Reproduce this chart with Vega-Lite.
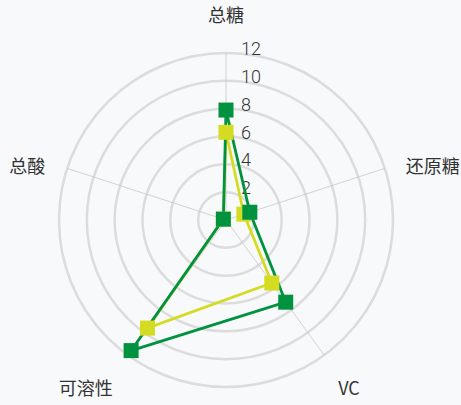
{
  "$schema": "https://vega.github.io/schema/vega-lite/v6.json",
  "width": 334,
  "height": 334,
  "autosize": {"type": "none"},
  "padding": {"left": 59, "top": 53, "right": 68, "bottom": 18},
  "background": "#f8f9fb",
  "config": {"view": {"stroke": null}},
  "datasets": {
    "pts": [
      {"axis": "总糖", "idx": 0, "series": "B", "value": 6.3},
      {"axis": "还原糖", "idx": 1, "series": "B", "value": 1.35},
      {"axis": "VC", "idx": 2, "series": "B", "value": 5.6},
      {"axis": "可溶性", "idx": 3, "series": "B", "value": 9.6},
      {"axis": "总酸", "idx": 4, "series": "B", "value": 0.2},
      {"axis": "总糖", "idx": 0, "series": "A", "value": 7.9},
      {"axis": "还原糖", "idx": 1, "series": "A", "value": 1.8},
      {"axis": "VC", "idx": 2, "series": "A", "value": 7.3},
      {"axis": "可溶性", "idx": 3, "series": "A", "value": 11.6},
      {"axis": "总酸", "idx": 4, "series": "A", "value": 0.2}
    ],
    "axes": [
      {"axis": "总糖", "idx": 0, "max": 12},
      {"axis": "还原糖", "idx": 1, "max": 12},
      {"axis": "VC", "idx": 2, "max": 12},
      {"axis": "可溶性", "idx": 3, "max": 12},
      {"axis": "总酸", "idx": 4, "max": 12}
    ],
    "rings": [
      {"r": 2}, {"r": 4}, {"r": 6}, {"r": 8}, {"r": 10}, {"r": 12}
    ]
  },
  "layer": [
    {
      "data": {"name": "rings"},
      "mark": {"type": "arc", "theta": 0, "theta2": 6.2832, "fill": null, "stroke": "#dcdcdc", "strokeWidth": 2.5},
      "encoding": {
        "radius": {"field": "r", "type": "quantitative", "stack": null, "scale": {"type": "linear", "domain": [0, 12], "range": [0, 167], "zero": true}}
      }
    },
    {
      "data": {"name": "axes"},
      "transform": [
        {"calculate": "PI/2 - datum.idx*2*PI/5", "as": "ang"},
        {"calculate": "datum.max*cos(datum.ang)", "as": "ex"},
        {"calculate": "datum.max*sin(datum.ang)", "as": "ey"},
        {"calculate": "0", "as": "zero"}
      ],
      "mark": {"type": "rule", "stroke": "#c8c8c8", "strokeWidth": 0.8},
      "encoding": {
        "x": {"field": "zero", "type": "quantitative", "scale": {"domain": [-12, 12], "nice": false, "zero": false}, "axis": null},
        "y": {"field": "zero", "type": "quantitative", "scale": {"domain": [-12, 12], "nice": false, "zero": false}, "axis": null},
        "x2": {"field": "ex"},
        "y2": {"field": "ey"}
      }
    },
    {
      "data": {"name": "rings"},
      "transform": [{"calculate": "0", "as": "zero"}],
      "mark": {"type": "text", "align": "left", "baseline": "middle", "dx": 15, "dy": -3, "font": "Roboto", "fontWeight": 300, "fontSize": 18, "fill": "#333333"},
      "encoding": {
        "x": {"field": "zero", "type": "quantitative"},
        "y": {"field": "r", "type": "quantitative"},
        "text": {"field": "r", "type": "quantitative"}
      }
    },
    {
      "data": {"name": "pts"},
      "transform": [
        {"filter": "datum.series == 'B'"},
        {"calculate": "PI/2 - datum.idx*2*PI/5", "as": "ang"},
        {"calculate": "datum.value*cos(datum.ang)", "as": "px"},
        {"calculate": "datum.value*sin(datum.ang)", "as": "py"}
      ],
      "mark": {"type": "line", "interpolate": "linear-closed", "stroke": "#d4dc22", "strokeWidth": 2.8},
      "encoding": {
        "x": {"field": "px", "type": "quantitative"},
        "y": {"field": "py", "type": "quantitative"},
        "order": {"field": "idx", "type": "quantitative"}
      }
    },
    {
      "data": {"name": "pts"},
      "transform": [
        {"filter": "datum.series == 'A'"},
        {"calculate": "PI/2 - datum.idx*2*PI/5", "as": "ang"},
        {"calculate": "datum.value*cos(datum.ang)", "as": "px"},
        {"calculate": "datum.value*sin(datum.ang)", "as": "py"}
      ],
      "mark": {"type": "line", "interpolate": "linear-closed", "stroke": "#00923f", "strokeWidth": 2.8},
      "encoding": {
        "x": {"field": "px", "type": "quantitative"},
        "y": {"field": "py", "type": "quantitative"},
        "order": {"field": "idx", "type": "quantitative"}
      }
    },
    {
      "data": {"name": "pts"},
      "transform": [
        {"filter": "datum.series == 'B'"},
        {"calculate": "PI/2 - datum.idx*2*PI/5", "as": "ang"},
        {"calculate": "datum.value*cos(datum.ang)", "as": "px"},
        {"calculate": "datum.value*sin(datum.ang)", "as": "py"}
      ],
      "mark": {"type": "point", "shape": "square", "filled": true, "size": 225, "fill": "#d4dc22", "opacity": 1, "strokeWidth": 0},
      "encoding": {
        "x": {"field": "px", "type": "quantitative"},
        "y": {"field": "py", "type": "quantitative"}
      }
    },
    {
      "data": {"name": "pts"},
      "transform": [
        {"filter": "datum.series == 'A'"},
        {"calculate": "PI/2 - datum.idx*2*PI/5", "as": "ang"},
        {"calculate": "datum.value*cos(datum.ang)", "as": "px"},
        {"calculate": "datum.value*sin(datum.ang)", "as": "py"}
      ],
      "mark": {"type": "point", "shape": "square", "filled": true, "size": 225, "fill": "#00923f", "opacity": 1, "strokeWidth": 0},
      "encoding": {
        "x": {"field": "px", "type": "quantitative"},
        "y": {"field": "py", "type": "quantitative"}
      }
    },
    {
      "data": {"name": "axes"},
      "transform": [
        {"filter": "datum.idx == 0"},
        {"calculate": "PI/2 - datum.idx*2*PI/5", "as": "ang"},
        {"calculate": "datum.max*cos(datum.ang)", "as": "ex"},
        {"calculate": "datum.max*sin(datum.ang)", "as": "ey"}
      ],
      "mark": {"type": "text", "align": "center", "baseline": "middle", "dy": -36, "font": "Noto Sans CJK SC", "fontSize": 18, "fill": "#333333"},
      "encoding": {
        "x": {"field": "ex", "type": "quantitative"},
        "y": {"field": "ey", "type": "quantitative"},
        "text": {"field": "axis"}
      }
    },
    {
      "data": {"name": "axes"},
      "transform": [
        {"filter": "datum.idx == 1"},
        {"calculate": "PI/2 - datum.idx*2*PI/5", "as": "ang"},
        {"calculate": "datum.max*cos(datum.ang)", "as": "ex"},
        {"calculate": "datum.max*sin(datum.ang)", "as": "ey"}
      ],
      "mark": {"type": "text", "align": "left", "baseline": "middle", "dx": 21, "dy": 0, "font": "Noto Sans CJK SC", "fontSize": 18, "fill": "#333333"},
      "encoding": {
        "x": {"field": "ex", "type": "quantitative"},
        "y": {"field": "ey", "type": "quantitative"},
        "text": {"field": "axis"}
      }
    },
    {
      "data": {"name": "axes"},
      "transform": [
        {"filter": "datum.idx == 2"},
        {"calculate": "PI/2 - datum.idx*2*PI/5", "as": "ang"},
        {"calculate": "datum.max*cos(datum.ang)", "as": "ex"},
        {"calculate": "datum.max*sin(datum.ang)", "as": "ey"}
      ],
      "mark": {"type": "text", "align": "left", "baseline": "middle", "dx": 14, "dy": 35, "font": "Noto Sans CJK SC", "fontSize": 18, "fill": "#333333"},
      "encoding": {
        "x": {"field": "ex", "type": "quantitative"},
        "y": {"field": "ey", "type": "quantitative"},
        "text": {"field": "axis"}
      }
    },
    {
      "data": {"name": "axes"},
      "transform": [
        {"filter": "datum.idx == 3"},
        {"calculate": "PI/2 - datum.idx*2*PI/5", "as": "ang"},
        {"calculate": "datum.max*cos(datum.ang)", "as": "ex"},
        {"calculate": "datum.max*sin(datum.ang)", "as": "ey"}
      ],
      "mark": {"type": "text", "align": "right", "baseline": "middle", "dx": -15, "dy": 35, "font": "Noto Sans CJK SC", "fontSize": 18, "fill": "#333333"},
      "encoding": {
        "x": {"field": "ex", "type": "quantitative"},
        "y": {"field": "ey", "type": "quantitative"},
        "text": {"field": "axis"}
      }
    },
    {
      "data": {"name": "axes"},
      "transform": [
        {"filter": "datum.idx == 4"},
        {"calculate": "PI/2 - datum.idx*2*PI/5", "as": "ang"},
        {"calculate": "datum.max*cos(datum.ang)", "as": "ex"},
        {"calculate": "datum.max*sin(datum.ang)", "as": "ey"}
      ],
      "mark": {"type": "text", "align": "right", "baseline": "middle", "dx": -22, "dy": 0, "font": "Noto Sans CJK SC", "fontSize": 18, "fill": "#333333"},
      "encoding": {
        "x": {"field": "ex", "type": "quantitative"},
        "y": {"field": "ey", "type": "quantitative"},
        "text": {"field": "axis"}
      }
    }
  ]
}
